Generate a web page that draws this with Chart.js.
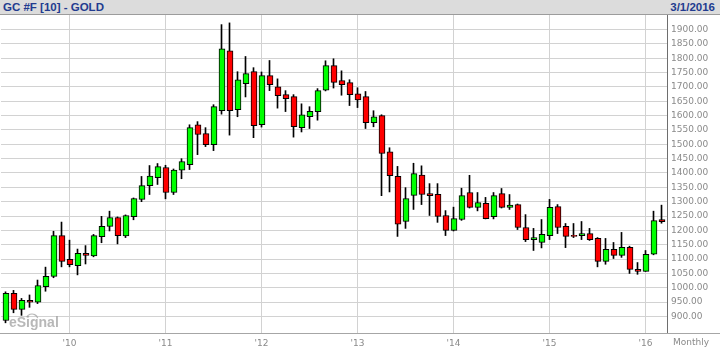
<!DOCTYPE html>
<html>
<head>
<meta charset="utf-8">
<script src="https://cdn.jsdelivr.net/npm/chart.js@4.4.1/dist/chart.umd.min.js"></script>
<style>
  html, body { margin: 0; padding: 0; background: #fff; }
  #wrap { position: relative; width: 720px; height: 350px; overflow: hidden; }
  #hdr {
    position: absolute; left: 0; top: 0; width: 720px; height: 14px; z-index: 2;
    background: #dcdcdc; border-bottom: 1px solid #9c9c9c;
    font: bold 11.5px "Liberation Sans", Arial, sans-serif; color: #223b8f; line-height: 14px;
  }
  #hdr .l { position: absolute; left: 3px; }
  #hdr .r { position: absolute; right: 5px; }
  canvas { position: absolute; left: 0; top: 0; }
</style>
</head>
<body>
<div id="wrap">
  <div id="hdr"><span class="l">GC #F [10] - GOLD</span><span class="r">3/1/2016</span></div>
  <canvas id="chart" width="720" height="350"></canvas>
</div>
<script>
// monthly candles, May 2009 - Mar 2016
const months = [
  "2009-05", "2009-06", "2009-07", "2009-08", "2009-09", "2009-10", "2009-11", "2009-12",
  "2010-01", "2010-02", "2010-03", "2010-04", "2010-05", "2010-06", "2010-07", "2010-08", "2010-09", "2010-10", "2010-11", "2010-12",
  "2011-01", "2011-02", "2011-03", "2011-04", "2011-05", "2011-06", "2011-07", "2011-08", "2011-09", "2011-10", "2011-11", "2011-12",
  "2012-01", "2012-02", "2012-03", "2012-04", "2012-05", "2012-06", "2012-07", "2012-08", "2012-09", "2012-10", "2012-11", "2012-12",
  "2013-01", "2013-02", "2013-03", "2013-04", "2013-05", "2013-06", "2013-07", "2013-08", "2013-09", "2013-10", "2013-11", "2013-12",
  "2014-01", "2014-02", "2014-03", "2014-04", "2014-05", "2014-06", "2014-07", "2014-08", "2014-09", "2014-10", "2014-11", "2014-12",
  "2015-01", "2015-02", "2015-03", "2015-04", "2015-05", "2015-06", "2015-07", "2015-08", "2015-09", "2015-10", "2015-11", "2015-12",
  "2016-01", "2016-02", "2016-03"
];
const opens = [
  886, 981, 925, 956, 950, 1004, 1040, 1182,
  1099, 1077, 1120, 1111, 1178, 1214, 1245, 1181, 1248, 1308, 1356, 1384,
  1419, 1332, 1410, 1429, 1568, 1537, 1499, 1617, 1826, 1621, 1711, 1753,
  1568, 1739, 1700, 1673, 1666, 1558, 1596, 1614, 1689, 1774, 1722, 1715,
  1676, 1666, 1575, 1600, 1474, 1388, 1231, 1322, 1393, 1328, 1326, 1252,
  1200, 1238, 1332, 1280, 1294, 1248, 1328, 1280, 1290, 1210, 1168, 1158,
  1182, 1283, 1214, 1183, 1182, 1189, 1172, 1092, 1134, 1113, 1141, 1064,
  1057, 1117, 1238
];
const highs = [
  986, 991, 963, 975, 1027, 1072, 1197, 1229,
  1166, 1135, 1147, 1186, 1249, 1267, 1247, 1254, 1313, 1388, 1426, 1433,
  1427, 1414, 1450, 1568, 1579, 1558, 1638, 1917, 1923, 1753, 1806, 1767,
  1752, 1792, 1728, 1687, 1673, 1641, 1631, 1694, 1791, 1798, 1756, 1725,
  1697, 1684, 1617, 1603, 1488, 1423, 1349, 1434, 1425, 1363, 1363, 1269,
  1281, 1347, 1392, 1332, 1315, 1332, 1346, 1325, 1292, 1255, 1207, 1238,
  1308, 1290, 1224, 1224, 1231, 1207, 1175, 1172, 1158, 1193, 1145, 1088,
  1130, 1267, 1288
];
const lows = [
  878, 913, 904, 932, 945, 988, 1035, 1073,
  1073, 1045, 1083, 1108, 1157, 1198, 1153, 1175, 1237, 1300, 1325, 1360,
  1310, 1325, 1380, 1412, 1464, 1492, 1478, 1605, 1532, 1596, 1665, 1523,
  1560, 1687, 1626, 1614, 1525, 1543, 1555, 1584, 1686, 1696, 1671, 1635,
  1628, 1555, 1561, 1321, 1334, 1179, 1207, 1273, 1290, 1252, 1228, 1182,
  1198, 1235, 1278, 1268, 1240, 1240, 1278, 1273, 1203, 1161, 1130, 1139,
  1168, 1189, 1140, 1175, 1168, 1165, 1073, 1082, 1102, 1106, 1050, 1047,
  1057, 1115, 1225
];
const closes = [
  981, 925, 956, 950, 1008, 1040, 1182, 1092,
  1081, 1120, 1113, 1182, 1214, 1245, 1182, 1252, 1311, 1356, 1389, 1422,
  1332, 1410, 1440, 1558, 1534, 1499, 1631, 1833, 1617, 1725, 1746, 1565,
  1739, 1708, 1669, 1659, 1561, 1603, 1615, 1687, 1774, 1716, 1708, 1673,
  1655, 1575, 1596, 1468, 1391, 1222, 1311, 1398, 1325, 1321, 1249, 1200,
  1241, 1321, 1280, 1297, 1241, 1321, 1280, 1288, 1210, 1168, 1175, 1186,
  1280, 1210, 1179, 1179, 1189, 1168, 1092, 1134, 1113, 1141, 1064, 1057,
  1117, 1234, 1230
];
const yearTicks = ["'10", "'11", "'12", "'13", "'14", "'15", "'16"];
const priceTicks = [900, 950, 1000, 1050, 1100, 1150, 1200, 1250, 1300, 1350, 1400,
  1450, 1500, 1550, 1600, 1650, 1700, 1750, 1800, 1850, 1900];

// month number counted from Jan 2010
const monthIdx = months.map(s => {
  const [y, m] = s.split("-").map(Number);
  return (y - 2010) * 12 + (m - 1);
});
const yearPos = yearTicks.map(t => (2000 + Number(t.slice(1)) - 2010) * 12);

const wickData = monthIdx.map((m, i) => ({ x: m, y: [lows[i], highs[i]] }));
const bodyData = monthIdx.map((m, i) => ({ x: m, y: [opens[i], closes[i]] }));
const bodyColors = opens.map((o, i) => closes[i] >= o ? "#00ff00" : "#ff0000");

const labelFont = { family: "'DejaVu Sans', Verdana, sans-serif", size: 9 };
const labelColor = "#8a8a8a";
const gridColor = "#d2d2d2";

const decor = {
  id: "decor",
  beforeDatasetsDraw(chart) {
    const ctx = chart.ctx;
    const area = chart.chartArea;
    ctx.save();
    ctx.font = "bold 14px 'Liberation Sans', Arial, sans-serif";
    ctx.fillStyle = "rgba(160,160,160,0.75)";
    ctx.textBaseline = "alphabetic";
    ctx.fillText("eSignal", area.left + 8, area.bottom - 6.5);
    ctx.strokeStyle = "rgba(160,160,160,0.75)";
    ctx.lineWidth = 1.2;
    ctx.beginPath();
    ctx.arc(area.left + 31, area.bottom - 13, 6, Math.PI * 1.15, Math.PI * 1.9);
    ctx.stroke();
    ctx.restore();
  },
  afterDraw(chart) {
    const ctx = chart.ctx;
    const area = chart.chartArea;
    ctx.save();
    ctx.strokeStyle = "#a6a6a6";
    ctx.lineWidth = 1;
    ctx.beginPath();
    ctx.moveTo(0, area.bottom + 0.5);
    ctx.lineTo(chart.width, area.bottom + 0.5);
    ctx.stroke();
    ctx.font = "9px 'DejaVu Sans', Verdana, sans-serif";
    ctx.fillStyle = labelColor;
    ctx.textBaseline = "middle";
    ctx.fillText("Monthly", area.right + 6, area.bottom + 10);
    ctx.restore();
  }
};

new Chart(document.getElementById("chart"), {
  type: "bar",
  data: {
    datasets: [
      {
        label: "body",
        data: bodyData,
        xAxisID: "xb",
        backgroundColor: bodyColors,
        borderColor: "#000",
        borderWidth: 1,
        borderSkipped: false,
        barThickness: 6,
        grouped: false
      },
      {
        label: "wick",
        data: wickData,
        xAxisID: "x",
        backgroundColor: "#000",
        borderWidth: 0,
        barThickness: 1,
        grouped: false
      }
    ]
  },
  options: {
    responsive: false,
    animation: false,
    layout: { padding: { top: 14, left: 1, right: 0, bottom: 0 } },
    plugins: { legend: { display: false }, tooltip: { enabled: false } },
    scales: {
      x: {
        type: "linear",
        position: "bottom",
        min: -8.5625,
        max: 74.6875,
        offset: false,
        grid: { color: gridColor, offset: false, drawTicks: false },
        border: { display: false },
        afterBuildTicks: s => { s.ticks = yearPos.map(v => ({ value: v })); },
        afterFit: s => { s.height = 17; },
        ticks: {
          autoSkip: false,
          maxRotation: 0,
          padding: 5,
          font: labelFont,
          color: labelColor,
          callback: (v, i) => yearTicks[i]
        }
      },
      xb: {
        type: "linear",
        display: false,
        min: -8.625,
        max: 74.625,
        offset: false
      },
      y: {
        position: "right",
        min: 842.5,
        max: 1954,
        grid: { color: gridColor, drawTicks: false },
        border: { display: true, color: "#6e6e6e", width: 1 },
        afterBuildTicks: s => { s.ticks = priceTicks.map(v => ({ value: v })); },
        afterFit: s => { s.width = 53; },
        ticks: {
          autoSkip: false,
          padding: 4,
          font: labelFont,
          color: labelColor,
          callback: v => Number(v).toFixed(2)
        }
      }
    }
  },
  plugins: [decor]
});
</script>
</body>
</html>
